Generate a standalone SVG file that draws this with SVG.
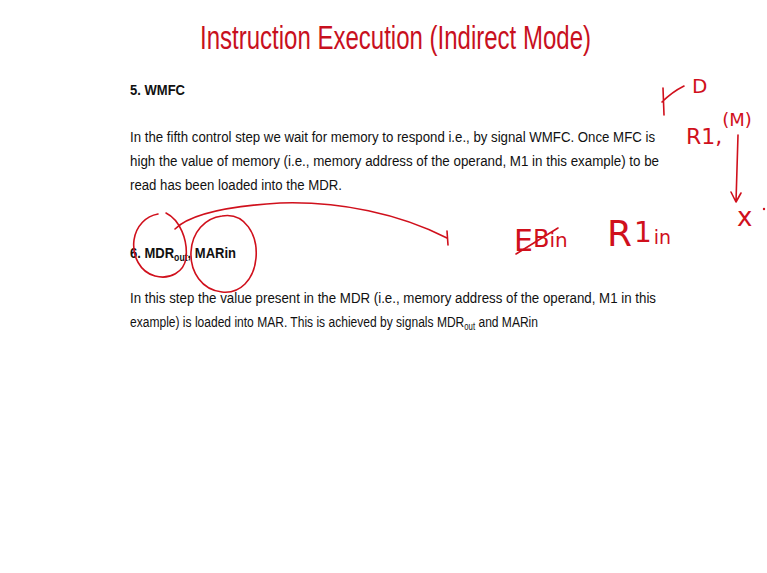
<svg xmlns="http://www.w3.org/2000/svg" width="767" height="573" viewBox="0 0 767 573">
<style>
.title{font-family:"Liberation Sans",Arial,sans-serif;font-size:33px;fill:#c8101e}
.h{font-family:"Liberation Sans",Arial,sans-serif;font-size:15px;font-weight:bold;fill:#111}
.b{font-family:"Liberation Sans",Arial,sans-serif;font-size:15.5px;fill:#111}
.sub{font-size:10px}
.ink{fill:none;stroke:#d0101c;stroke-width:1.6;stroke-linecap:round;stroke-linejoin:round}
.hw{font-family:"DejaVu Sans",sans-serif;fill:#d0101c}
</style>
<rect width="767" height="573" fill="#fff"/>
<text class="title" x="200" y="49" textLength="391" lengthAdjust="spacingAndGlyphs">Instruction Execution (Indirect Mode)</text>
<text class="h" x="130" y="95" textLength="55" lengthAdjust="spacingAndGlyphs">5. WMFC</text>
<text class="b" x="130" y="142" textLength="525" lengthAdjust="spacingAndGlyphs">In the fifth control step we wait for memory to respond i.e., by signal WMFC. Once MFC is</text>
<text class="b" x="130" y="166" textLength="529" lengthAdjust="spacingAndGlyphs">high the value of memory (i.e., memory address of the operand, M1 in this example) to be</text>
<text class="b" x="130" y="190" textLength="212" lengthAdjust="spacingAndGlyphs">read has been loaded into the MDR.</text>
<text class="h" x="130" y="258" textLength="106" lengthAdjust="spacingAndGlyphs">6. MDR<tspan class="sub" dy="3">out</tspan><tspan dy="-3">, MARin</tspan></text>
<text class="b" x="130" y="303" textLength="526" lengthAdjust="spacingAndGlyphs">In this step the value present in the MDR (i.e., memory address of the operand, M1 in this</text>
<text class="b" x="130" y="327" textLength="408" lengthAdjust="spacingAndGlyphs">example) is loaded into MAR. This is achieved by signals MDR<tspan class="sub" dy="3">out</tspan><tspan dy="-3"> and MARin</tspan></text>
<g id="annotations">
<path class="ink" d="M166,213 C180,220 188,240 186,258 C184,272 170,280 155,276 C140,272 132,256 134,240 C136,226 146,216 158,214"/>
<path class="ink" d="M222,216 C245,212 258,235 256,258 C254,280 240,294 222,292 C202,290 190,272 191,252 C192,232 205,218 222,216 Z"/>
<path class="ink" d="M175,229 C190,214 230,206 280,203 C340,201 400,214 447,238"/>
<path class="ink" d="M447,231 L448,245"/>
<text class="hw" x="514" y="251" font-size="30">E<tspan dy="-4" font-size="24">B</tspan><tspan font-size="20">in</tspan></text>
<path class="ink" d="M516,254 L558,228"/>
<text class="hw" x="607" y="246" font-size="36">R<tspan dx="2" dy="-4" font-size="28">1</tspan><tspan dx="2" dy="2" font-size="19">in</tspan></text>
<path class="ink" d="M664,115 L663,88 M662,102 C668,96 676,90 684,86"/>
<text class="hw" x="692" y="93" font-size="20">D</text>
<text class="hw" x="686" y="144" font-size="22">R1,<tspan dy="-18" font-size="18">(M)</tspan></text>
<path class="ink" d="M738,135 L736,202 M731,192 L736,202 L741,193"/>
<text class="hw" x="737" y="226" font-size="26">x</text>
<circle cx="764" cy="209" r="1.2" fill="#d0101c"/>
</g>
</svg>
